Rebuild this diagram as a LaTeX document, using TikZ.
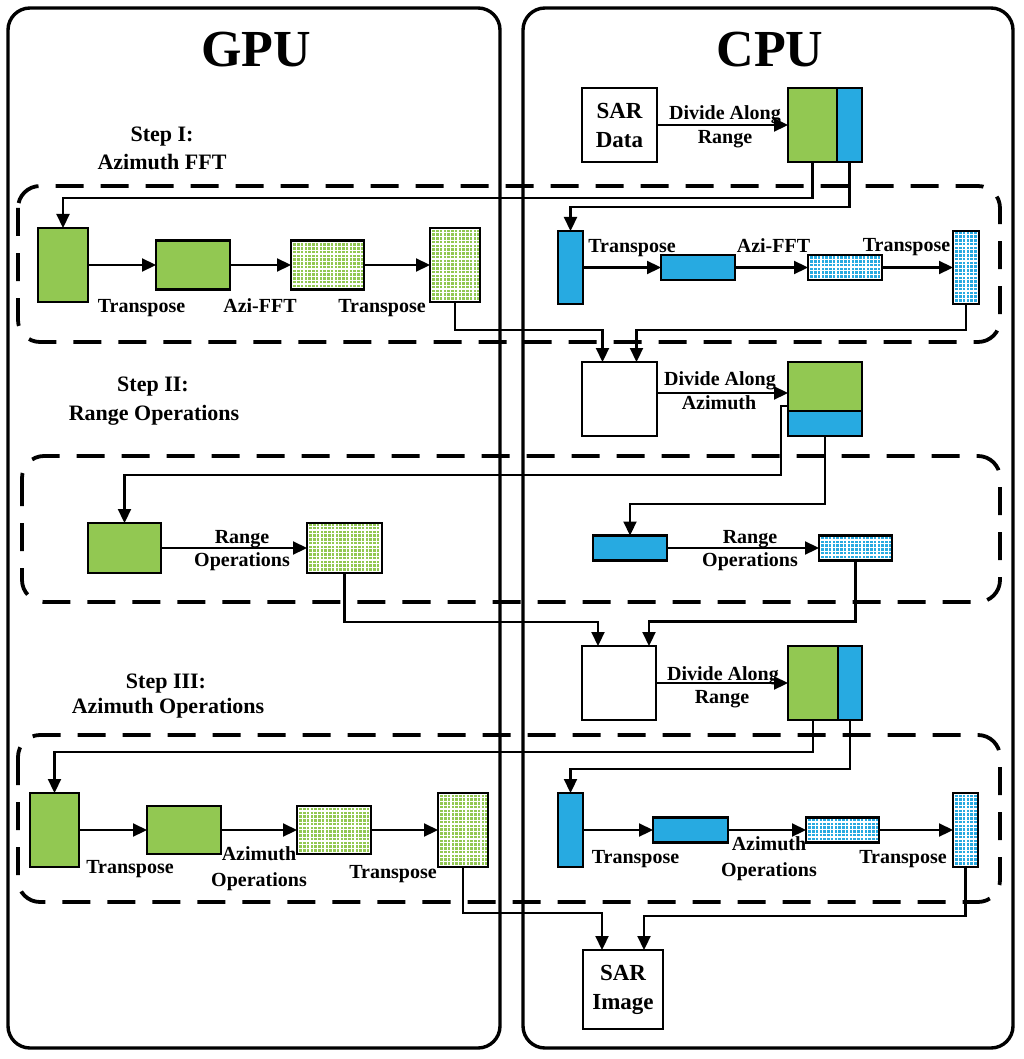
\documentclass[tikz,border=0pt]{standalone}
\usepackage{fontspec}
\setmainfont{Liberation Serif}
\usetikzlibrary{arrows.meta,calc}
\definecolor{gfill}{RGB}{146,200,82}
\definecolor{bfill}{RGB}{39,170,225}
\tikzset{
  panel/.style={draw=black,line width=3.4pt,rounded corners=22pt},
  stepzone/.style={draw=black,line width=3.8pt,dash pattern=on 28pt off 17pt,rounded corners=22pt},
  blk/.style={draw=black,line width=2.6pt,inner sep=0pt,outer sep=0pt},
  gblk/.style={blk,fill=gfill},
  bblk/.style={blk,fill=bfill},
  wblk/.style={blk,fill=white},
  gridded/.style={path picture={
     \foreach \k in {0,...,22}{
       \draw[white,line width=1.2pt] ([xshift=\k*3.75pt+1.8pt]path picture bounding box.south west) -- ([xshift=\k*3.75pt+1.8pt]path picture bounding box.north west);
       \draw[white,line width=1.2pt] ([yshift=\k*3.75pt+1.8pt]path picture bounding box.south west) -- ([yshift=\k*3.75pt+1.8pt]path picture bounding box.south east);}}},
  arr/.style={draw=black,line width=2.2pt,-{Triangle[length=14pt,width=13pt]}},
  lbl/.style={font=\fontsize{20}{24}\selectfont\bfseries,anchor=base,inner sep=0pt},
  steplbl/.style={font=\fontsize{22}{26}\selectfont\bfseries,anchor=base,inner sep=0pt},
  ttl/.style={font=\fontsize{52}{60}\selectfont\bfseries,anchor=base,inner sep=0pt},
  sartxt/.style={wblk,align=center,font=\fontsize{23}{29}\selectfont\bfseries},
}
\begin{document}
\begin{tikzpicture}[x=1pt,y=-1pt]
\useasboundingbox (0,0) rectangle (1024,1059);
% panels
\draw[panel] (8,8) rectangle (500,1048);
\draw[panel] (523,8) rectangle (1013,1048);
% step zones
\draw[stepzone] (18,186) rectangle (1000,342);
\draw[stepzone] (22,456) rectangle (1000,602);
\draw[stepzone] (18,735) rectangle (1000,902);
% titles
\node[ttl] (gput) at (256,67) {GPU};
\node[ttl] (cput) at (770,67) {CPU};
\node[steplbl] (s1a) at (162,142) {Step I:};
\node[steplbl] (s1b) at (162,170) {Azimuth FFT};
\node[steplbl] (s2a) at (153,391) {Step II:};
\node[steplbl] (s2b) at (154,420) {Range Operations};
\node[steplbl] (s3a) at (166,688) {Step III:};
\node[steplbl] (s3b) at (168,713) {Azimuth Operations};
% top
\node[sartxt,minimum width=75pt,minimum height=74pt] (sard) at (619.5,125) {SAR\\Data};
\node[gblk,minimum width=49pt,minimum height=74pt] (S1g) at (812.5,125) {};
\node[bblk,minimum width=25pt,minimum height=74pt] (S1b) at (849.5,125) {};
% step I GPU
\node[gblk,minimum width=50pt,minimum height=74pt] (G1) at (63,265) {};
\node[gblk,minimum width=74pt,minimum height=49pt] (G2) at (193,265) {};
\node[gblk,gridded,minimum width=73pt,minimum height=49pt] (G3) at (327.5,265) {};
\node[gblk,gridded,minimum width=50pt,minimum height=74pt] (G4) at (455,265) {};
% step I CPU
\node[bblk,minimum width=25pt,minimum height=73pt] (C1) at (570.5,267.5) {};
\node[bblk,minimum width=74pt,minimum height=25pt] (C2) at (698,267.5) {};
\node[bblk,gridded,minimum width=74pt,minimum height=25pt] (C3) at (845,267.5) {};
\node[bblk,gridded,minimum width=26pt,minimum height=73pt] (C4) at (966,267.5) {};
% middle 1
\node[wblk,minimum width=75pt,minimum height=74pt] (W2) at (619.5,399) {};
\node[gblk,minimum width=74pt,minimum height=49pt] (S2g) at (825,386.5) {};
\node[bblk,minimum width=74pt,minimum height=25pt] (S2b) at (825,423.5) {};
% step II
\node[gblk,minimum width=73pt,minimum height=50pt] (G5) at (124.5,548) {};
\node[gblk,gridded,minimum width=75pt,minimum height=50pt] (G6) at (344.5,548) {};
\node[bblk,minimum width=74pt,minimum height=25pt] (C5) at (630,548) {};
\node[bblk,gridded,minimum width=73pt,minimum height=25pt] (C6) at (855.5,548) {};
% middle 2
\node[wblk,minimum width=74pt,minimum height=74pt] (W3) at (619,683) {};
\node[gblk,minimum width=50pt,minimum height=74pt] (S3g) at (813,683) {};
\node[bblk,minimum width=24pt,minimum height=74pt] (S3b) at (850,683) {};
% step III GPU
\node[gblk,minimum width=49pt,minimum height=74pt] (G7) at (54.5,830) {};
\node[gblk,minimum width=74pt,minimum height=48pt] (G8) at (184,830) {};
\node[gblk,gridded,minimum width=74pt,minimum height=48pt] (G9) at (334,830) {};
\node[gblk,gridded,minimum width=50pt,minimum height=74pt] (G10) at (463,830) {};
% step III CPU
\node[bblk,minimum width=25pt,minimum height=74pt] (C7) at (570.5,830) {};
\node[bblk,minimum width=75pt,minimum height=25pt] (C8) at (690.5,830) {};
\node[bblk,gridded,minimum width=73pt,minimum height=25pt] (C9) at (842.5,830) {};
\node[bblk,gridded,minimum width=25pt,minimum height=74pt] (C10) at (965.5,830) {};
% output
\node[sartxt,minimum width=80pt,minimum height=79pt] (sari) at (623,989.5) {SAR\\Image};

% connectors
\draw[arr] (sard) -- (S1g);
\draw[arr] (S1g.south) -- ++(0,36) -| (G1.north);
\draw[arr] (S1b.south) -- ++(0,45) -| (C1.north);
\draw[arr] (G1) -- (G2);
\draw[arr] (G2) -- (G3);
\draw[arr] (G3) -- (G4);
\draw[arr] (C1) -- (C2);
\draw[arr] (C2) -- (C3);
\draw[arr] (C3) -- (C4);
\draw[arr] (G4.south) -- ++(0,28) -| ([xshift=-17pt]W2.north);
\draw[arr] (C4.south) -- ++(0,26) -| ([xshift=17pt]W2.north);
\path ([yshift=6pt]W2.east) coordinate (w2e);
\draw[arr] (w2e) -- (w2e -| S2g.west);
\draw[arr] ([yshift=-19.5pt]S2g.west) -- ++(-7,0) -- ++(0,69) -| (G5.north);
\draw[arr] (S2b.south) -- ++(0,68) -| (C5.north);
\draw[arr] (G5) -- (G6);
\draw[arr] (C5) -- (C6);
\draw[arr] (G6.south) -- ++(0,49) -| ([xshift=-21pt]W3.north);
\draw[arr] (C6.south) -- ++(0,61) -| ([xshift=30pt]W3.north);
\draw[arr] (W3) -- (S3g);
\draw[arr] (S3g.south) -- ++(0,32) -| (G7.north);
\draw[arr] (S3b.south) -- ++(0,49) -| (C7.north);
\draw[arr] (G7) -- (G8);
\draw[arr] (G8) -- (G9);
\draw[arr] (G9) -- (G10);
\draw[arr] (C7) -- (C8);
\draw[arr] (C8) -- (C9);
\draw[arr] (C9) -- (C10);
\draw[arr] (G10.south) -- ++(0,46) -| ([xshift=-21pt]sari.north);
\draw[arr] (C10.south) -- ++(0,49) -| ([xshift=21pt]sari.north);

% labels
\node[lbl] (d1a) at (725,120) {Divide Along};
\node[lbl] (d1b) at (725,144) {Range};
\node[lbl] (t1) at (141.5,312) {Transpose};
\node[lbl] (t2) at (260,312) {Azi-FFT};
\node[lbl] (t3) at (382,312) {Transpose};
\node[lbl] (t4) at (632,252.5) {Transpose};
\node[lbl] (t5) at (773.5,252.5) {Azi-FFT};
\node[lbl] (t6) at (906.5,251.5) {Transpose};
\node[lbl] (d2a) at (720,385) {Divide Along};
\node[lbl] (d2b) at (719,409) {Azimuth};
\node[lbl] (r1a) at (242,543) {Range};
\node[lbl] (r1b) at (242,566.5) {Operations};
\node[lbl] (r2a) at (750,543) {Range};
\node[lbl] (r2b) at (750,566.5) {Operations};
\node[lbl] (d3a) at (723,680) {Divide Along};
\node[lbl] (d3b) at (722,703) {Range};
\node[lbl] (t7) at (130,873) {Transpose};
\node[lbl] (t8) at (259,860) {Azimuth};
\node[lbl] (t9) at (259,886) {Operations};
\node[lbl] (t10) at (393,878) {Transpose};
\node[lbl] (t11) at (635.5,863) {Transpose};
\node[lbl] (t12) at (769,850) {Azimuth};
\node[lbl] (t13) at (769,876) {Operations};
\node[lbl] (t14) at (903,863) {Transpose};
\end{tikzpicture}
\end{document}
